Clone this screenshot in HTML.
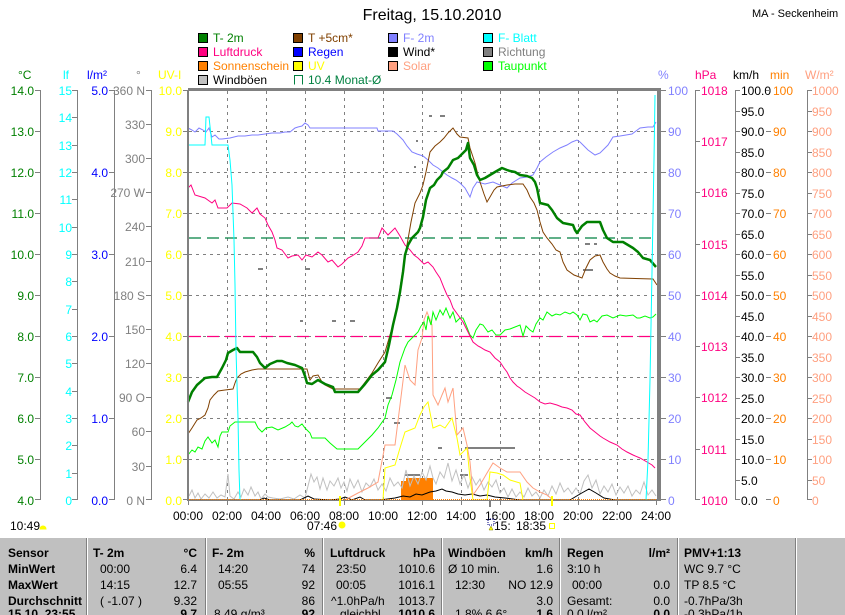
<!DOCTYPE html>
<html><head><meta charset="utf-8"><style>
body{margin:0;background:#fff;width:845px;height:615px;overflow:hidden}
svg{display:block}
text{font-family:"Liberation Sans",sans-serif;font-size:12px}
.tb text{font-family:"Liberation Sans Narrow","Liberation Sans",sans-serif;font-weight:bold;font-size:12px}
</style></head><body>
<svg width="845" height="615" viewBox="0 0 845 615" xmlns="http://www.w3.org/2000/svg">
<rect width="845" height="615" fill="#fff"/>
<text x="432" y="20" font-size="16" text-anchor="middle" style="font-size:16px">Freitag, 15.10.2010</text>
<text x="752" y="17" style="font-size:11px">MA - Seckenheim</text>
<!-- legend -->
<g>
<rect x="198.5" y="33.5" width="9" height="9" fill="#008000" stroke="#000"/><text x="213" y="42" fill="#008000">T- 2m</text>
<rect x="198.5" y="47.5" width="9" height="9" fill="#ff0080" stroke="#000"/><text x="213" y="56" fill="#ff0080">Luftdruck</text>
<rect x="198.5" y="61.5" width="9" height="9" fill="#ff8000" stroke="#000"/><text x="213" y="70" fill="#ff8000">Sonnenschein</text>
<rect x="198.5" y="75.5" width="9" height="9" fill="#c0c0c0" stroke="#000"/><text x="213" y="84" fill="#000">Windböen</text>
<rect x="293.5" y="33.5" width="9" height="9" fill="#804000" stroke="#000"/><text x="308" y="42" fill="#804000">T +5cm*</text>
<rect x="293.5" y="47.5" width="9" height="9" fill="#0000ff" stroke="#000"/><text x="308" y="56" fill="#0000ff">Regen</text>
<rect x="293.5" y="61.5" width="9" height="9" fill="#ffff00" stroke="#000"/><text x="308" y="70" fill="#ffff00">UV</text>
<path d="M294.5 84.5V75.5H302.5V84.5" fill="none" stroke="#008040"/><text x="308" y="84" fill="#008040">10.4 Monat-Ø</text>
<rect x="388.5" y="33.5" width="9" height="9" fill="#8080ff" stroke="#000"/><text x="403" y="42" fill="#8080ff">F- 2m</text>
<rect x="388.5" y="47.5" width="9" height="9" fill="#000" stroke="#000"/><text x="403" y="56" fill="#000">Wind*</text>
<rect x="388.5" y="61.5" width="9" height="9" fill="#ffa080" stroke="#000"/><text x="403" y="70" fill="#ffa080">Solar</text>
<rect x="483.5" y="33.5" width="9" height="9" fill="#00ffff" stroke="#000"/><text x="498" y="42" fill="#00ffff">F- Blatt</text>
<rect x="483.5" y="47.5" width="9" height="9" fill="#808080" stroke="#000"/><text x="498" y="56" fill="#808080">Richtung</text>
<rect x="483.5" y="61.5" width="9" height="9" fill="#00ff00" stroke="#000"/><text x="498" y="70" fill="#00ff00">Taupunkt</text>
</g>
<!-- unit headers -->
<text x="18" y="79" fill="#008000">°C</text>
<text x="63" y="79" fill="#00ffff">lf</text>
<text x="87" y="79" fill="#0000ff">l/m²</text>
<text x="136" y="79" fill="#808080">°</text>
<text x="158" y="79" fill="#ffff00">UV-I</text>
<text x="658" y="79" fill="#8080ff">%</text>
<text x="695" y="79" fill="#ff0080">hPa</text>
<text x="733" y="79" fill="#000">km/h</text>
<text x="770" y="79" fill="#ff8000">min</text>
<text x="805" y="79" fill="#ffa080">W/m²</text>
<!-- left axes lines -->
<g stroke="#808080" stroke-width="1" fill="none">
<path d="M40.5 90V500M77.5 90V500M114.5 90V500M151.5 90V500"/>
<path d="M695.5 90V500M735.5 90V500M807.5 90V500"/>
</g>
<g id="ax">
<!-- degC -->
<g fill="#008000" text-anchor="end">
<text x="34" y="95">14.0</text><text x="34" y="136">13.0</text><text x="34" y="177">12.0</text><text x="34" y="218">11.0</text><text x="34" y="259">10.0</text><text x="34" y="300">9.0</text><text x="34" y="341">8.0</text><text x="34" y="382">7.0</text><text x="34" y="423">6.0</text><text x="34" y="464">5.0</text><text x="34" y="505">4.0</text>
</g>
<path stroke="#808080" d="M35 90.5H40M35 131.5H40M35 172.5H40M35 213.5H40M35 254.5H40M35 295.5H40M35 336.5H40M35 377.5H40M35 418.5H40M35 459.5H40M35 499.5H40"/>
<g fill="#00ffff" text-anchor="end">
<text x="72" y="95">15</text><text x="72" y="122">14</text><text x="72" y="150">13</text><text x="72" y="177">12</text><text x="72" y="204">11</text><text x="72" y="232">10</text><text x="72" y="259">9</text><text x="72" y="286">8</text><text x="72" y="314">7</text><text x="72" y="341">6</text><text x="72" y="368">5</text><text x="72" y="396">4</text><text x="72" y="423">3</text><text x="72" y="450">2</text><text x="72" y="478">1</text><text x="72" y="505">0</text>
</g>
<path stroke="#808080" d="M72 90.5H77M72 117.5H77M72 145.5H77M72 172.5H77M72 199.5H77M72 227.5H77M72 254.5H77M72 281.5H77M72 309.5H77M72 336.5H77M72 363.5H77M72 391.5H77M72 418.5H77M72 445.5H77M72 473.5H77M72 499.5H77"/>
<g fill="#0000ff" text-anchor="end">
<text x="108" y="95">5.0</text><text x="108" y="177">4.0</text><text x="108" y="259">3.0</text><text x="108" y="341">2.0</text><text x="108" y="423">1.0</text><text x="108" y="505">0.0</text>
</g>
<path stroke="#808080" d="M109 90.5H114M109 172.5H114M109 254.5H114M109 336.5H114M109 418.5H114M109 499.5H114"/>
<g fill="#808080" text-anchor="end">
<text x="145" y="95">360 N</text><text x="145" y="129">330</text><text x="145" y="163">300</text><text x="145" y="197">270 W</text><text x="145" y="231">240</text><text x="145" y="266">210</text><text x="145" y="300">180 S</text><text x="145" y="334">150</text><text x="145" y="368">120</text><text x="145" y="402">90 O</text><text x="145" y="436">60</text><text x="145" y="471">30</text><text x="145" y="505">0 N</text>
</g>
<path stroke="#808080" d="M146 90.5H151M146 124.5H151M146 158.5H151M146 192.5H151M146 226.5H151M146 261.5H151M146 295.5H151M146 329.5H151M146 363.5H151M146 397.5H151M146 431.5H151M146 466.5H151M146 499.5H151"/>
<g fill="#ffff00" text-anchor="end">
<text x="182" y="95">10.0</text><text x="182" y="136">9.0</text><text x="182" y="177">8.0</text><text x="182" y="218">7.0</text><text x="182" y="259">6.0</text><text x="182" y="300">5.0</text><text x="182" y="341">4.0</text><text x="182" y="382">3.0</text><text x="182" y="423">2.0</text><text x="182" y="464">1.0</text><text x="182" y="505">0.0</text>
</g>
<path stroke="#808080" d="M183 90.5H188M183 131.5H188M183 172.5H188M183 213.5H188M183 254.5H188M183 295.5H188M183 336.5H188M183 377.5H188M183 418.5H188M183 459.5H188M183 499.5H188"/>
<!-- right: % -->
<g fill="#8080ff">
<text x="668" y="95">100</text><text x="668" y="136">90</text><text x="668" y="177">80</text><text x="668" y="218">70</text><text x="668" y="259">60</text><text x="668" y="300">50</text><text x="668" y="341">40</text><text x="668" y="382">30</text><text x="668" y="423">20</text><text x="668" y="464">10</text><text x="668" y="505">0</text>
</g>
<path stroke="#808080" d="M661 90.5H666M661 131.5H666M661 172.5H666M661 213.5H666M661 254.5H666M661 295.5H666M661 336.5H666M661 377.5H666M661 418.5H666M661 459.5H666M661 499.5H666"/>
<g fill="#ff0080">
<text x="701" y="95">1018</text><text x="701" y="146">1017</text><text x="701" y="197">1016</text><text x="701" y="249">1015</text><text x="701" y="300">1014</text><text x="701" y="351">1013</text><text x="701" y="402">1012</text><text x="701" y="454">1011</text><text x="701" y="505">1010</text>
</g>
<path stroke="#808080" d="M695 90.5H700M695 141.5H700M695 192.5H700M695 244.5H700M695 295.5H700M695 346.5H700M695 397.5H700M695 449.5H700M695 499.5H700"/>
<g fill="#000">
<text x="741" y="95">100.0</text><text x="741" y="116">95.0</text><text x="741" y="136">90.0</text><text x="741" y="157">85.0</text><text x="741" y="177">80.0</text><text x="741" y="198">75.0</text><text x="741" y="218">70.0</text><text x="741" y="239">65.0</text><text x="741" y="259">60.0</text><text x="741" y="280">55.0</text><text x="741" y="300">50.0</text><text x="741" y="321">45.0</text><text x="741" y="341">40.0</text><text x="741" y="362">35.0</text><text x="741" y="382">30.0</text><text x="741" y="403">25.0</text><text x="741" y="423">20.0</text><text x="741" y="444">15.0</text><text x="741" y="464">10.0</text><text x="741" y="485">5.0</text><text x="741" y="505">0.0</text>
</g>
<path stroke="#808080" d="M735 90.5H740M735 111.5H740M735 131.5H740M735 152.5H740M735 172.5H740M735 193.5H740M735 213.5H740M735 234.5H740M735 254.5H740M735 275.5H740M735 295.5H740M735 316.5H740M735 336.5H740M735 357.5H740M735 377.5H740M735 398.5H740M735 418.5H740M735 439.5H740M735 459.5H740M735 480.5H740M735 499.5H740"/>
<g fill="#ff8000">
<text x="773" y="95">100</text><text x="773" y="136">90</text><text x="773" y="177">80</text><text x="773" y="218">70</text><text x="773" y="259">60</text><text x="773" y="300">50</text><text x="773" y="341">40</text><text x="773" y="382">30</text><text x="773" y="423">20</text><text x="773" y="464">10</text><text x="773" y="505">0</text>
</g>
<path stroke="#808080" d="M766 90.5H771M766 131.5H771M766 172.5H771M766 213.5H771M766 254.5H771M766 295.5H771M766 336.5H771M766 377.5H771M766 418.5H771M766 459.5H771M766 499.5H771"/>
<g fill="#ffa080">
<text x="812" y="95">1000</text><text x="812" y="116">950</text><text x="812" y="136">900</text><text x="812" y="157">850</text><text x="812" y="177">800</text><text x="812" y="198">750</text><text x="812" y="218">700</text><text x="812" y="239">650</text><text x="812" y="259">600</text><text x="812" y="280">550</text><text x="812" y="300">500</text><text x="812" y="321">450</text><text x="812" y="341">400</text><text x="812" y="362">350</text><text x="812" y="382">300</text><text x="812" y="403">250</text><text x="812" y="423">200</text><text x="812" y="444">150</text><text x="812" y="464">100</text><text x="812" y="485">50</text><text x="812" y="505">0</text>
</g>
<path stroke="#808080" d="M807 90.5H812M807 111.5H812M807 131.5H812M807 152.5H812M807 172.5H812M807 193.5H812M807 213.5H812M807 234.5H812M807 254.5H812M807 275.5H812M807 295.5H812M807 316.5H812M807 336.5H812M807 357.5H812M807 377.5H812M807 398.5H812M807 418.5H812M807 439.5H812M807 459.5H812M807 480.5H812M807 499.5H812"/>
</g>
<!-- grid -->
<g stroke="#808080" stroke-dasharray="3,4" fill="none">
<path d="M227.5 91V500M266.5 91V500M305.5 91V500M344.5 91V500M383.5 91V500M422.5 91V500M461.5 91V500M500.5 91V500M539.5 91V500M578.5 91V500M617.5 91V500"/>
<path d="M189 131.5H657M189 172.5H657M189 213.5H657M189 254.5H657M189 295.5H657M189 336.5H657M189 377.5H657M189 418.5H657M189 459.5H657"/>
</g>
<!-- monthly avg & pressure dashed -->
<path d="M189 238H657" stroke="#008040" stroke-width="1.2" stroke-dasharray="12,6"/>
<path d="M189 336.5H657" stroke="#ff0080" stroke-width="1.2" stroke-dasharray="12,6"/>
<!-- direction markers -->
<g fill="#808080">
<rect x="258" y="268" width="5" height="2"/><rect x="305" y="268" width="5" height="2"/><rect x="300" y="320" width="3" height="2"/><rect x="332" y="320" width="4" height="2"/><rect x="350" y="320" width="5" height="2"/><rect x="386" y="397" width="6" height="2"/><rect x="394" y="422" width="6" height="2"/><rect x="416" y="140" width="2" height="2"/><rect x="414" y="166" width="2" height="2"/><rect x="429" y="115" width="3" height="2"/><rect x="440" y="115" width="5" height="2"/><rect x="585" y="243" width="5" height="2"/><rect x="583" y="269" width="10" height="2"/><rect x="594" y="243" width="3" height="2"/><rect x="465" y="447" width="50" height="2"/><rect x="438" y="447" width="4" height="2"/><rect x="405" y="474" width="15" height="2"/><rect x="460" y="474" width="8" height="2"/>
</g>
<!-- sunshine -->
<path d="M401 500V481H406V478H433V500Z" fill="#ff8000"/>
<!-- gusts -->
<polyline fill="none" stroke="#c0c0c0" points="189,496 192,490 195,498 198,493 201,499 205,494 209,498 213,492 217,498 221,495 225,497 228,474 230,496 234,499 238,492 241,497 244,489 248,495 251,487 255,496 258,492 261,499 265,494 268,497 273,498 280,499 288,497 294,499 300,495 305,498 308,486 311,474 314,482 317,477 320,489 323,478 327,490 330,481 334,486 338,478 341,488 344,482 347,491 350,479 354,488 358,480 362,492 366,483 370,487 374,479 378,490 382,484 386,491 390,478 394,486 398,482 402,488 406,470 410,486 414,476 418,484 422,472 426,480 430,466 433,478 436,484 440,472 444,478 448,463 452,481 456,470 460,484 464,475 468,488 472,477 476,485 480,479 484,490 488,482 492,487 496,480 500,493 504,488 508,497 512,489 516,497 520,492 524,497 528,488 532,496 536,492 540,498 544,490 548,496 552,486 556,494 560,483 564,492 568,488 572,494 576,488 580,494 584,481 588,475 592,488 596,480 600,494 604,486 608,492 612,484 616,495 620,487 624,493 628,486 632,496 636,490 640,494 644,482 648,495 652,490 656,496"/>
<!-- wind black -->
<polyline fill="none" stroke="#000" points="189,500 260,500 264,498 270,500 300,500 308,496 314,499 330,500 340,499 345,497 352,500 360,497 365,500 380,500 395,498 403,496 410,497 416,494 422,495 430,492 436,491 442,489 446,491 452,492 458,494 465,495 472,494 480,496 487,495 495,497 505,498 520,500 570,500 580,494 589,489 596,493 604,498 615,500 657,500"/>
<!-- solar -->
<polyline fill="none" stroke="#ffa080" points="345,500 358,493 368,488 378,482 385,445 395,445 405,365 410,380 415,385 418,350 422,338 424,320 427,312 432,325 433,395 438,405 442,395 445,388 448,402 453,388 457,435 463,428 467,445 470,462 473,495 480,485 487,473 493,463 500,468 507,472 520,472 527,482 533,488 540,492 547,495 553,500"/>
<!-- UV -->
<polyline fill="none" stroke="#ffff00" points="383,500 385,468 395,465 400,448 405,432 410,430 415,428 420,415 424,407 428,402 433,428 440,425 445,428 452,418 457,438 460,455 467,448 470,478 473,500 487,500 490,472 497,473 503,475 510,480 520,483 523,500"/>
<!-- dew point -->
<polyline fill="none" stroke="#00ff00" points="188,455 192,450 195,452 198,447 202,449 205,441 208,437 212,443 215,440 218,447 220,436 222,432 228,432 230,426 235,422 255,422 258,428 262,432 266,428 272,427 278,430 285,427 290,424 292,422 295,426 298,427 302,424 305,428 310,433 312,438 325,438 330,443 337,449 358,449 365,442 372,435 378,428 385,418 388,405 392,395 396,380 400,362 405,348 408,342 412,338 418,332 421,326 424,322 426,330 428,316 431,325 433,312 436,320 440,310 443,315 446,308 450,318 453,312 456,322 460,318 463,318 466,325 470,335 473,338 476,330 480,324 483,325 488,332 492,330 496,335 500,335 505,330 510,329 515,327 520,325 523,336 526,326 530,330 533,332 536,324 540,318 543,320 547,312 552,316 556,314 560,315 565,312 570,314 573,312 577,315 580,320 583,314 587,315 590,322 594,320 597,322 602,316 607,315 613,318 620,315 626,316 633,315 637,318 640,318 645,316 650,318 653,317 656,314"/>
<!-- pressure -->
<polyline fill="none" stroke="#ff0080" points="188,188 191,185 195,195 205,198 212,203 215,200 218,208 227,208 232,203 240,204 247,208 252,213 257,208 260,214 265,218 268,225 272,232 275,240 277,248 282,250 288,258 292,256 298,255 302,260 306,255 312,257 318,252 322,255 328,262 332,260 338,267 342,264 348,258 352,256 358,252 362,246 365,238 372,238 378,238 382,228 388,235 395,228 400,236 405,245 410,250 414,255 418,258 424,264 428,262 433,267 436,272 440,278 444,288 447,295 450,300 453,308 458,315 463,322 468,332 473,342 478,346 480,347 485,350 490,352 495,358 500,362 504,368 507,372 510,378 513,382 517,386 520,388 525,392 530,395 535,398 540,402 545,404 550,403 557,405 562,407 567,408 572,410 576,414 580,415 585,422 590,428 595,432 600,436 603,438 610,442 617,445 622,449 627,452 633,455 640,458 647,462 652,465 655,468"/>
<!-- F-2m -->
<polyline fill="none" stroke="#8080ff" points="188,128 192,130 195,132 199,128 203,130 206,132 209,128 212,137 215,135 219,139 222,139 230,138 238,136 245,136 252,135 258,135 265,134 272,133 280,133 285,132 290,132 295,128 298,127 302,126 305,123 308,125 310,128 340,128 377,128 378,131 393,131 397,134 403,140 407,146 412,152 417,154 423,156 428,160 433,165 438,168 443,172 447,175 452,178 456,180 460,183 465,188 470,197 473,188 477,182 485,184 493,182 500,185 507,188 512,183 520,178 527,177 533,175 537,168 540,162 546,157 553,152 560,148 567,145 572,142 577,140 580,142 583,145 588,150 595,155 600,153 603,150 608,145 613,137 620,136 632,134 636,131 640,128 648,127 653,127 656,122"/>
<!-- T+5cm -->
<polyline fill="none" stroke="#804000" points="188,434 192,428 197,420 201,418 205,415 208,408 210,400 214,395 218,391 225,390 233,389 235,383 237,378 241,374 245,372 252,370 258,369 270,369 290,369 307,369 310,380 313,376 318,375 322,382 325,385 333,389 360,389 366,381 372,373 378,363 385,352 390,335 395,318 399,295 402,275 405,258 407,245 411,222 415,203 420,193 423,185 426,172 430,152 435,146 440,142 444,138 448,133 451,130 453,128 457,134 460,137 468,138 470,148 475,163 478,175 480,182 484,194 487,202 490,197 494,190 497,187 507,185 515,184 523,184 527,190 530,197 534,203 537,210 540,222 543,232 547,238 552,244 556,250 560,252 563,262 567,270 574,275 582,278 586,268 590,260 595,256 600,255 603,262 607,269 610,273 615,276 620,278 653,279 657,285"/>
<!-- T-2m -->
<polyline fill="none" stroke="#008000" stroke-width="2.5" stroke-linejoin="round" points="188,402 192,392 197,385 205,378 212,377 217,377 222,368 226,360 228,353 233,350 237,348 240,352 253,352 257,357 260,363 265,368 270,364 277,361 282,361 287,363 295,365 302,368 305,376 307,383 312,384 318,380 325,384 333,387 335,392 358,392 365,384 372,375 378,370 385,362 389,345 393,325 397,308 400,292 403,272 405,255 408,245 412,238 418,232 420,228 423,217 426,200 430,188 434,185 437,180 441,176 443,172 448,168 453,160 458,158 463,153 466,150 468,143 470,158 474,165 477,175 480,180 485,178 490,175 495,172 502,168 507,170 510,171 515,172 520,175 527,176 532,178 535,182 537,188 540,203 548,205 552,210 557,218 563,223 573,225 575,230 577,233 582,226 587,222 600,222 603,230 607,238 613,242 623,242 628,245 633,248 638,252 643,258 650,260 656,267"/>
<!-- leaf wetness -->
<polyline fill="none" stroke="#00ffff" points="188,145 205,145 206,117 209,117 212,145 228,145 230,160 232,185 234,240 235,285 236,350 238,418 239,470 240,500"/>
<polyline fill="none" stroke="#00ffff" points="646,500 648,460 650,380 652,272 654,160 655,95"/>
<!-- orange dotted baseline -->
<path d="M189 499.5H657" stroke="#ff8000" stroke-dasharray="1,1"/>
<!-- frame -->
<path d="M188 89.5H661" stroke="#808080" stroke-width="3"/>
<path d="M188 90V501" stroke="#808080" stroke-width="2"/>
<path d="M659 90V501" stroke="#808080" stroke-width="4"/>
<path d="M187 500.5H661" stroke="#808080"/>
<path stroke="#808080" d="M188.5 500V505M227.5 500V505M266.5 500V505M305.5 500V505M344.5 500V505M383.5 500V505M422.5 500V505M461.5 500V505M500.5 500V505M539.5 500V505M578.5 500V505M617.5 500V505M656.5 500V505"/>
<path d="M340 496V506" stroke="#ffff00" stroke-width="2"/>
<path d="M490 500V507" stroke="#808080" stroke-width="2"/>
<path d="M552 496V506" stroke="#ffff00" stroke-width="2"/>
<!-- x labels -->
<g text-anchor="middle" fill="#000">
<text x="188" y="520">00:00</text><text x="227" y="520">02:00</text><text x="266" y="520">04:00</text><text x="305" y="520">06:00</text><text x="344" y="520">08:00</text><text x="383" y="520">10:00</text><text x="422" y="520">12:00</text><text x="461" y="520">14:00</text><text x="500" y="520">16:00</text><text x="539" y="520">18:00</text><text x="578" y="520">20:00</text><text x="617" y="520">22:00</text><text x="656" y="520">24:00</text>
</g>
<text x="10" y="530">10:49</text><path d="M40 529a3 3 0 0 1 6 0z" fill="#ffff00" stroke="#ffff00"/>
<text x="307" y="530">07:46</text><circle cx="342" cy="525" r="3.5" fill="#ffff00"/>
<rect x="488" y="519" width="6" height="6" fill="none" stroke="#000080" stroke-dasharray="1,1"/>
<path d="M491 526l-2 4h4z" fill="#ffff00" stroke="#808000" stroke-width=".5"/>
<text x="494" y="530">15:</text><text x="516" y="530">18:35</text><rect x="549.5" y="523.5" width="5" height="5" fill="none" stroke="#ffff00"/>
<!-- table -->
<rect x="0" y="538" width="845" height="77" fill="#c0c0c0"/>
<g stroke="#808080"><path d="M86.5 538V615M205.5 538V615M322.5 538V615M441.5 538V615M559.5 538V615M677.5 538V615M795.5 538V615"/></g>
<g stroke="#fff"><path d="M87.5 538V615M206.5 538V615M323.5 538V615M442.5 538V615M560.5 538V615M678.5 538V615M796.5 538V615"/></g>
<g class="tb" fill="#000">
<text x="8" y="557">Sensor</text><text x="8" y="573">MinWert</text><text x="8" y="589">MaxWert</text><text x="8" y="605">Durchschnitt</text><text x="8" y="618">15.10. 23:55</text>
<text x="93" y="557">T- 2m</text><text x="197" y="557" text-anchor="end">°C</text>
<text x="100" y="573" style="font-weight:normal">00:00</text><text x="197" y="573" text-anchor="end" style="font-weight:normal">6.4</text>
<text x="100" y="589" style="font-weight:normal">14:15</text><text x="197" y="589" text-anchor="end" style="font-weight:normal">12.7</text>
<text x="100" y="605" style="font-weight:normal">( -1.07 )</text><text x="197" y="605" text-anchor="end" style="font-weight:normal">9.32</text>
<text x="197" y="618" text-anchor="end">9.7</text>
<text x="212" y="557">F- 2m</text><text x="315" y="557" text-anchor="end">%</text>
<text x="218" y="573" style="font-weight:normal">14:20</text><text x="315" y="573" text-anchor="end" style="font-weight:normal">74</text>
<text x="218" y="589" style="font-weight:normal">05:55</text><text x="315" y="589" text-anchor="end" style="font-weight:normal">92</text>
<text x="315" y="605" text-anchor="end" style="font-weight:normal">86</text>
<text x="214" y="618" style="font-weight:normal">8.49 g/m³</text><text x="315" y="618" text-anchor="end">92</text>
<text x="330" y="557">Luftdruck</text><text x="435" y="557" text-anchor="end">hPa</text>
<text x="336" y="573" style="font-weight:normal">23:50</text><text x="435" y="573" text-anchor="end" style="font-weight:normal">1010.6</text>
<text x="336" y="589" style="font-weight:normal">00:05</text><text x="435" y="589" text-anchor="end" style="font-weight:normal">1016.1</text>
<text x="331" y="605" style="font-weight:normal">^1.0hPa/h</text><text x="435" y="605" text-anchor="end" style="font-weight:normal">1013.7</text>
<text x="340" y="618" style="font-weight:normal">gleichbl.</text><text x="435" y="618" text-anchor="end">1010.6</text>
<text x="448" y="557">Windböen</text><text x="553" y="557" text-anchor="end">km/h</text>
<text x="448" y="573" style="font-weight:normal">Ø 10 min.</text><text x="553" y="573" text-anchor="end" style="font-weight:normal">1.6</text>
<text x="455" y="589" style="font-weight:normal">12:30</text><text x="553" y="589" text-anchor="end" style="font-weight:normal">NO 12.9</text>
<text x="553" y="605" text-anchor="end" style="font-weight:normal">3.0</text>
<text x="455" y="618" style="font-weight:normal">1.8% 6.6°</text><text x="553" y="618" text-anchor="end">1.6</text>
<text x="567" y="557">Regen</text><text x="670" y="557" text-anchor="end">l/m²</text>
<text x="567" y="573" style="font-weight:normal">3:10 h</text>
<text x="572" y="589" style="font-weight:normal">00:00</text><text x="670" y="589" text-anchor="end" style="font-weight:normal">0.0</text>
<text x="567" y="605" style="font-weight:normal">Gesamt:</text><text x="670" y="605" text-anchor="end" style="font-weight:normal">0.0</text>
<text x="567" y="618" style="font-weight:normal">0.0 l/m²</text><text x="670" y="618" text-anchor="end">0.0</text>
<text x="684" y="557">PMV+1:13</text>
<text x="684" y="573" style="font-weight:normal">WC 9.7 °C</text>
<text x="684" y="589" style="font-weight:normal">TP 8.5 °C</text>
<text x="684" y="605" style="font-weight:normal">-0.7hPa/3h</text>
<text x="684" y="618" style="font-weight:normal">-0.3hPa/1h</text>
</g>
</svg>
</body></html>
